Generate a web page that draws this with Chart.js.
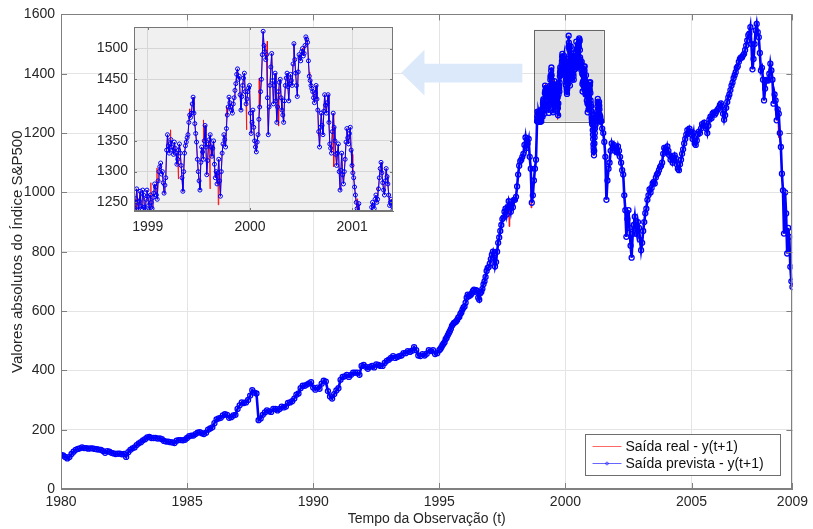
<!DOCTYPE html>
<html>
<head>
<meta charset="utf-8">
<script src="https://cdn.jsdelivr.net/npm/chart.js@4.4.1/dist/chart.umd.min.js"></script>
<style>
  html, body { margin: 0; padding: 0; background: #ffffff; }
  #wrap { position: relative; width: 813px; height: 529px; }
  #wrap canvas { position: absolute; left: 0; top: 0; }
</style>
</head>
<body>
<div id="wrap">
  <canvas id="main" width="813" height="529" style="width:813px;height:529px"></canvas>
  <canvas id="inset" width="813" height="529" style="width:813px;height:529px"></canvas>
</div>
<script>
// ---------------- S&P500 series (index level) ----------------

// Monthly closes, Jan 1980 .. Dec 1994
const monthly1980to1994 = [
  115, 113, 108, 103, 108, 118, 126, 132, 135, 137, 140, 138,
  138, 136, 137, 137, 135, 134, 133, 132, 128, 122, 128, 126,
  122, 120, 118, 119, 119, 117, 118, 108, 124, 132, 137, 140,
  148, 154, 158, 164, 168, 174, 176, 172, 172, 172, 170, 171,
  168, 162, 160, 160, 158, 157, 155, 163, 165, 165, 164, 166,
  172, 178, 180, 180, 185, 190, 192, 188, 185, 190, 200, 204,
  208, 222, 235, 238, 240, 248, 252, 250, 240, 242, 248, 250,
  270, 282, 292, 290, 292, 300, 315, 333, 325, 322, 232, 238,
  250, 258, 265, 262, 260, 270, 270, 265, 270, 278, 275, 278,
  290, 292, 296, 305, 318, 322, 340, 348, 348, 352, 356, 360,
  342, 335, 342, 338, 355, 365, 362, 330, 312, 305, 320, 332,
  340, 368, 378, 380, 385, 378, 385, 392, 392, 392, 385, 415,
  418, 412, 405, 412, 415, 410, 420, 418, 415, 415, 425, 432,
  436, 442, 448, 442, 445, 448, 450, 458, 458, 465, 462, 466,
  478, 468, 450, 448, 455, 450, 456, 468, 465, 468, 455, 458
];

// Half-monthly closes, Jan 1995 .. Oct 1998
const halfMonthly1995to1998 = [
  468, 472, 478, 485, 490, 495, 505, 510, 518, 525, 532, 540,
  550, 555, 560, 562, 565, 570, 578, 580, 590, 595, 605, 612,
  615, 628, 645, 655, 650, 652, 655, 660, 668, 672, 665, 670,
  668, 645, 638, 660, 665, 675, 690, 700, 715, 735, 745, 748,
  760, 775, 790, 800, 780, 750, 765, 800, 830, 848, 870, 890,
  910, 915, 935, 945, 925, 950, 970, 955, 935, 960, 950, 975,
  975, 985, 1020, 1060, 1090, 1105, 1110, 1120, 1130, 1160, 1185, 1150,
  1165, 1180, 1120, 1080, 965, 990, 1040, 1080, 1110
];

// Dense observations, Nov 1998 .. May 2001 (the enlarged window)
const dense1998to2001 = [
  1240, 1256, 1272, 1250, 1238, 1252, 1268, 1244, 1240, 1270, 1262, 1242, 1238, 1255, 1270, 1260, 1245, 1238, 1262, 1250,
  1240, 1258, 1265, 1280, 1275, 1262, 1255, 1285, 1300, 1308, 1314, 1296, 1300, 1282, 1265, 1278, 1290, 1335, 1360, 1342,
  1330, 1345, 1352, 1340, 1335, 1328, 1348, 1338, 1330, 1312, 1320, 1335, 1345, 1330, 1310, 1290, 1268, 1300, 1330, 1342,
  1348, 1355, 1360, 1380, 1392, 1388, 1395, 1410, 1421, 1395, 1378, 1362, 1348, 1320, 1300, 1285, 1270, 1315, 1340, 1332,
  1320, 1350, 1375, 1340, 1295, 1318, 1345, 1352, 1360, 1340, 1325, 1338, 1350, 1312, 1290, 1300, 1280, 1298, 1320, 1285,
  1260, 1300, 1330, 1345, 1360, 1352, 1340, 1370, 1392, 1405, 1421, 1412, 1405, 1400, 1395, 1410, 1420, 1432, 1443, 1458,
  1467, 1450, 1455, 1425, 1400, 1422, 1440, 1452, 1460, 1430, 1410, 1418, 1430, 1436, 1440, 1395, 1362, 1380, 1400, 1372,
  1350, 1340, 1332, 1348, 1360, 1385, 1405, 1430, 1450, 1490, 1528, 1505, 1495, 1482, 1490, 1420, 1360, 1405, 1440, 1470,
  1492, 1448, 1410, 1440, 1460, 1415, 1380, 1405, 1430, 1445, 1450, 1420, 1400, 1392, 1380, 1415, 1440, 1452, 1460, 1438,
  1415, 1442, 1458, 1448, 1440, 1475, 1508, 1482, 1460, 1440, 1422, 1462, 1490, 1485, 1480, 1495, 1500, 1488, 1492, 1505,
  1519, 1515, 1510, 1480, 1455, 1448, 1440, 1435, 1430, 1420, 1412, 1428, 1440, 1418, 1400, 1365, 1340, 1372, 1395, 1375,
  1360, 1398, 1425, 1408, 1395, 1412, 1425, 1380, 1345, 1338, 1330, 1365, 1395, 1372, 1350, 1328, 1310, 1330, 1345, 1300,
  1270, 1302, 1330, 1295, 1280, 1300, 1320, 1348, 1370, 1355, 1345, 1362, 1372, 1335, 1310, 1298, 1290, 1275, 1262, 1250,
  1240, 1232, 1248, 1228, 1210, 1195, 1180, 1162, 1150, 1138, 1125, 1140, 1165, 1185, 1200, 1215, 1228, 1242, 1250, 1245,
  1240, 1255, 1262, 1250, 1255, 1272, 1290, 1305, 1315, 1298, 1282, 1270, 1262, 1285, 1305, 1292, 1280, 1262, 1245, 1250,
  1255, 1244, 1238
];

// Half-monthly closes, Jun 2001 .. Dec 2008
const halfMonthly2001to2008 = [
  1240, 1215, 1200, 1170, 1120, 975, 1040, 1080, 1100, 1140, 1165, 1150, 1160, 1140,
  1150, 1135, 1155, 1140, 1120, 1100, 1075, 1060, 990, 940, 850, 910,
  940, 880, 820, 780, 860, 890, 918, 880, 860, 900, 880, 840,
  805, 830, 870, 900, 930, 945, 975, 990, 1010, 1000, 1015, 1030,
  1035, 1030, 1050, 1060, 1065, 1075, 1085, 1090, 1100, 1130, 1150, 1145,
  1135, 1155, 1140, 1125, 1110, 1120, 1100, 1110, 1125, 1115, 1095, 1080,
  1075, 1095, 1110, 1130, 1145, 1165, 1180, 1195, 1210, 1200, 1215, 1205,
  1195, 1180, 1200, 1165, 1160, 1175, 1195, 1205, 1200, 1215, 1230, 1225,
  1235, 1225, 1215, 1200, 1225, 1245, 1255, 1250, 1265, 1270, 1262, 1268,
  1275, 1280, 1285, 1295, 1300, 1290, 1265, 1245, 1260, 1285, 1305, 1320,
  1330, 1345, 1360, 1370, 1385, 1395, 1405, 1420, 1425, 1440, 1450, 1455,
  1455, 1462, 1467, 1480, 1495, 1512, 1530, 1535, 1557, 1500, 1415, 1450,
  1500, 1546, 1568, 1540, 1523, 1470, 1411, 1420, 1380, 1310, 1350, 1377,
  1380, 1377, 1400, 1434, 1411, 1380, 1299, 1330, 1310, 1243, 1280, 1265,
  1200, 1153, 1063, 1007, 861, 1000, 929, 794, 880, 850, 749, 700, 681
];

// Observed values the one-step forecast missed: [time, real value]
const realOutputMisses = [
  [1997.77, 885], [1998.64, 948],
  [1998.89, 1234], [1999.03, 1282], [1999.09, 1306], [1999.22, 1368],
  [1999.30, 1288], [1999.41, 1402], [1999.545, 1384], [1999.61, 1272],
  [1999.69, 1246], [1999.77, 1406], [1999.87, 1462], [1999.965, 1368],
  [2000.09, 1452], [2000.17, 1512], [2000.28, 1374], [2000.44, 1484],
  [2000.53, 1504], [2000.585, 1462], [2000.67, 1358], [2000.82, 1308],
  [2001.00, 1328], [2001.05, 1256], [2001.25, 1274], [2008.45, 1185]
];

// Axis ticks
const mainYearTicks = [1980, 1985, 1990, 1995, 2000, 2005, 2009];
const insetYearTicks = [1999, 2000, 2001];
const insetValueTicks = [1250, 1300, 1350, 1400, 1450, 1500];

// ---------------- build point lists ----------------
const segments = [
  { start: 1980, step: 1 / 12, values: monthly1980to1994 },
  { start: 1995, step: 1 / 24, values: halfMonthly1995to1998 },
  { start: 1998.875, step: (2001.40 - 1998.875) / (dense1998to2001.length - 1), values: dense1998to2001 },
  { start: 2001 + 10 / 24, step: 1 / 24, values: halfMonthly2001to2008 }
];

const predictedPoints = [];
segments.forEach(seg => seg.values.forEach((v, i) => predictedPoints.push({ x: seg.start + i * seg.step, y: v })));

const realPoints = predictedPoints
  .concat(realOutputMisses.map(([x, y]) => ({ x, y })))
  .sort((a, b) => a.x - b.x);

// ---------------- styling ----------------
const FONT = '"Liberation Sans", Arial, Helvetica, sans-serif';
const TEXT = '#262626';
const AXIS = '#808080';
const LABEL_REAL = 'Saída real - y(t+1)';
const LABEL_PRED = 'Saída prevista - y(t+1)';

function predictedDataset(points, lineWidth, radius, ringWidth) {
  return {
    label: LABEL_PRED,
    data: points,
    borderColor: 'rgb(0,0,255)',
    borderWidth: lineWidth,
    pointRadius: radius,
    pointBorderWidth: ringWidth,
    pointBorderColor: 'rgb(0,0,255)',
    pointBackgroundColor: 'rgba(0,0,255,0)',
    tension: 0
  };
}
function realDataset(points, lineWidth) {
  return {
    label: LABEL_REAL,
    data: points,
    borderColor: 'rgb(255,0,0)',
    borderWidth: lineWidth,
    pointRadius: 0,
    tension: 0
  };
}

// Box round the plot area plus inward tick marks on all four sides
const frameAndTicks = {
  id: 'frameAndTicks',
  afterDatasetsDraw(chart, args, opts) {
    const { ctx, chartArea: a, scales: { x, y } } = chart;
    const L = opts.length;
    ctx.save();
    ctx.strokeStyle = opts.color;
    ctx.lineWidth = 1;
    ctx.beginPath();
    x.ticks.forEach(t => {
      const px = Math.round(x.getPixelForValue(t.value)) + 0.5;
      ctx.moveTo(px, a.bottom); ctx.lineTo(px, a.bottom - L);
      ctx.moveTo(px, a.top); ctx.lineTo(px, a.top + L);
    });
    y.ticks.forEach(t => {
      const py = Math.round(y.getPixelForValue(t.value)) + 0.5;
      ctx.moveTo(a.left, py); ctx.lineTo(a.left + L, py);
      ctx.moveTo(a.right, py); ctx.lineTo(a.right - L, py);
    });
    ctx.stroke();
    ctx.strokeRect(Math.round(a.left) + 0.5, Math.round(a.top) + 0.5,
                   Math.round(a.right - a.left) - 1, Math.round(a.bottom - a.top) - 1);
    ctx.restore();
  }
};

// Shaded zoom window and the arrow pointing to the enlarged view (data units)
const zoomWindow = { x0: 1998.755, x1: 2001.52, y0: 1239, y1: 1548 };
const arrowShape = { tipX: 1993.49, tipY: 1403.5, headX: 1994.41, headTop: 1481, headBottom: 1327,
                     shaftTop: 1434, shaftBottom: 1370, tailX: 1998.29 };

const zoomMarkers = {
  id: 'zoomMarkers',
  beforeDatasetsDraw(chart) {
    const { ctx, scales: { x, y } } = chart;
    ctx.save();
    const l = x.getPixelForValue(zoomWindow.x0), r = x.getPixelForValue(zoomWindow.x1);
    const t = y.getPixelForValue(zoomWindow.y1), b = y.getPixelForValue(zoomWindow.y0);
    ctx.fillStyle = 'rgba(0,0,0,0.115)';
    ctx.fillRect(l, t, r - l, b - t);
    ctx.strokeStyle = 'rgba(60,60,60,0.75)';
    ctx.lineWidth = 1;
    ctx.strokeRect(Math.round(l) + 0.5, Math.round(t) + 0.5, Math.round(r - l), Math.round(b - t));
    const A = arrowShape;
    ctx.fillStyle = 'rgb(219,233,250)';
    ctx.beginPath();
    ctx.moveTo(x.getPixelForValue(A.tipX), y.getPixelForValue(A.tipY));
    ctx.lineTo(x.getPixelForValue(A.headX), y.getPixelForValue(A.headTop));
    ctx.lineTo(x.getPixelForValue(A.headX), y.getPixelForValue(A.shaftTop));
    ctx.lineTo(x.getPixelForValue(A.tailX), y.getPixelForValue(A.shaftTop));
    ctx.lineTo(x.getPixelForValue(A.tailX), y.getPixelForValue(A.shaftBottom));
    ctx.lineTo(x.getPixelForValue(A.headX), y.getPixelForValue(A.shaftBottom));
    ctx.lineTo(x.getPixelForValue(A.headX), y.getPixelForValue(A.headBottom));
    ctx.closePath();
    ctx.fill();
    ctx.restore();
  }
};

// Legend box in the lower right corner of the plot
const cornerLegend = {
  id: 'cornerLegend',
  afterDraw(chart) {
    const { ctx, chartArea: a } = chart;
    const w = 195, h = 41;
    const left = Math.round(a.right - 12 - w) + 0.5, top = Math.round(a.bottom - 14 - h) + 0.5;
    ctx.save();
    ctx.fillStyle = '#ffffff';
    ctx.fillRect(left, top, w, h);
    ctx.strokeStyle = '#6e6e6e';
    ctx.lineWidth = 1;
    ctx.strokeRect(left, top, w, h);
    const rows = [
      { label: LABEL_REAL, color: 'rgba(255,0,0,0.75)', marker: false, y: top + 12 },
      { label: LABEL_PRED, color: 'rgba(0,0,255,0.75)', marker: true, y: top + 29 }
    ];
    ctx.font = '14px ' + FONT;
    ctx.textBaseline = 'middle';
    rows.forEach(r => {
      ctx.strokeStyle = r.color;
      ctx.lineWidth = 0.8;
      ctx.beginPath();
      ctx.moveTo(left + 7, r.y); ctx.lineTo(left + 36, r.y);
      ctx.stroke();
      if (r.marker) {
        ctx.beginPath();
        ctx.arc(left + 21.5, r.y, 1.4, 0, Math.PI * 2);
        ctx.stroke();
      }
      ctx.fillStyle = '#111111';
      ctx.fillText(r.label, left + 40, r.y + 0.5);
    });
    ctx.restore();
  }
};

// Plot-area background of the enlarged view
const insetBackground = {
  id: 'insetBackground',
  beforeDraw(chart) {
    const { ctx, chartArea: a } = chart;
    ctx.save();
    ctx.fillStyle = '#f0f0f0';
    ctx.fillRect(a.left, a.top, a.right - a.left, a.bottom - a.top);
    ctx.restore();
  }
};

const tickFont = { family: FONT, size: 14 };
const plainNumber = v => String(v);

// ---------------- main chart ----------------
new Chart(document.getElementById('main'), {
  type: 'line',
  data: { datasets: [predictedDataset(predictedPoints.slice(), 2.6, 2.5, 1.3), realDataset(realPoints.slice(), 1)] },
  options: {
    responsive: false,
    animation: false,
    events: [],
    parsing: false,
    layout: { padding: { left: 0, right: 18, top: 14, bottom: 0 } },
    plugins: {
      legend: { display: false },
      tooltip: { enabled: false },
      frameAndTicks: { color: AXIS, length: 6 }
    },
    scales: {
      x: {
        type: 'linear', min: 1980, max: 2009,
        afterBuildTicks: s => { s.ticks = mainYearTicks.map(v => ({ value: v })); },
        afterFit: s => { s.height = 40; },
        grid: { color: '#e4e4e4', lineWidth: 1, drawTicks: false },
        border: { display: true, color: AXIS, width: 1 },
        ticks: { padding: 5, font: tickFont, color: TEXT, maxRotation: 0, autoSkip: false, callback: plainNumber },
        title: { display: true, text: 'Tempo da Observação (t)', color: TEXT,
                 font: { family: FONT, size: 14 }, padding: { top: 0, bottom: 1 } }
      },
      y: {
        type: 'linear', min: 0, max: 1600,
        afterFit: s => { s.width = 61; },
        grid: { color: '#e4e4e4', lineWidth: 1, drawTicks: false },
        border: { display: true, color: AXIS, width: 1 },
        ticks: { stepSize: 200, padding: 6, font: tickFont, color: TEXT, callback: plainNumber },
        title: { display: true, text: 'Valores absolutos do Índice S&P500', color: TEXT,
                 font: { family: FONT, size: 15 }, padding: { top: 9, bottom: 0 } }
      }
    }
  },
  plugins: [zoomMarkers, frameAndTicks, cornerLegend]
});

// ---------------- enlarged view ----------------
new Chart(document.getElementById('inset'), {
  type: 'line',
  data: { datasets: [predictedDataset(predictedPoints.slice(), 1, 2, 1), realDataset(realPoints.slice(), 0.8)] },
  options: {
    responsive: false,
    animation: false,
    events: [],
    parsing: false,
    layout: { padding: { left: 74, right: 420, top: 27, bottom: 288 } },
    plugins: {
      legend: { display: false },
      tooltip: { enabled: false },
      frameAndTicks: { color: '#767676', length: 3 }
    },
    scales: {
      x: {
        type: 'linear', min: 1998.865, max: 2001.40,
        afterBuildTicks: s => { s.ticks = insetYearTicks.map(v => ({ value: v })); },
        afterFit: s => { s.height = 30; },
        grid: { color: '#d6d6d6', lineWidth: 1, drawTicks: false },
        border: { display: true, color: '#767676', width: 1 },
        ticks: { padding: 8, font: tickFont, color: TEXT, maxRotation: 0, autoSkip: false, callback: plainNumber }
      },
      y: {
        type: 'linear', min: 1236, max: 1535,
        afterBuildTicks: s => { s.ticks = insetValueTicks.map(v => ({ value: v })); },
        afterFit: s => { s.width = 60; },
        grid: { color: '#d6d6d6', lineWidth: 1, drawTicks: false },
        border: { display: true, color: '#767676', width: 1 },
        ticks: { padding: 6, font: tickFont, color: TEXT, callback: plainNumber }
      }
    }
  },
  plugins: [insetBackground, frameAndTicks]
});
</script>
</body>
</html>
